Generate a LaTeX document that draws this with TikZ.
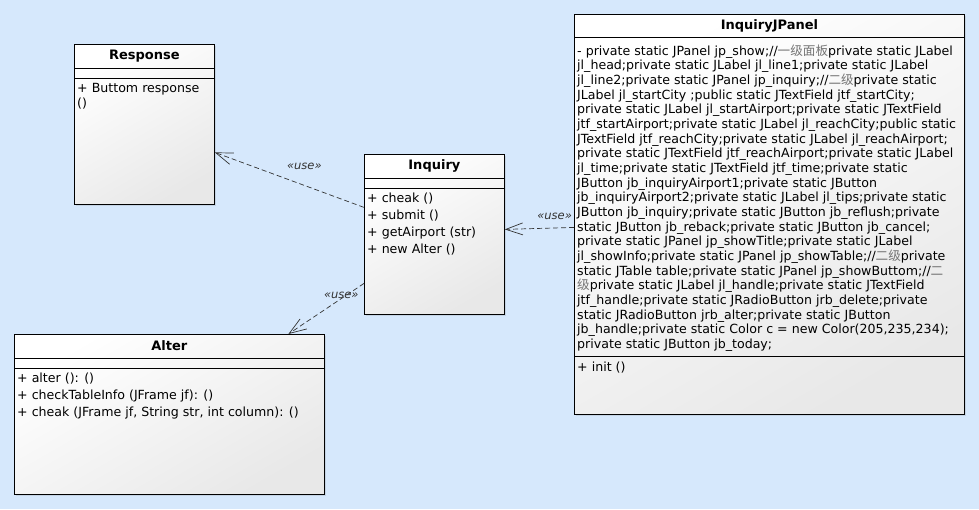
\documentclass[tikz,border=0pt]{standalone}
\usepackage{fontspec}
\setmainfont{DejaVu Sans}
\newfontfamily\cjk{Noto Sans CJK SC}
\usetikzlibrary{arrows.meta,shadows}
\definecolor{diagbg}{RGB}{214,232,252}
\newcommand{\zh}[1]{{\cjk\color{black!55}#1}}

\begin{document}
\begin{tikzpicture}[%
      x=1pt, y=-1pt,
      classbox/.style={rectangle, draw=black, line width=0.8pt, inner sep=0pt,
        anchor=north west, top color=white, bottom color=black!9, shading angle=30,
        drop shadow={shadow xshift=2pt, shadow yshift=-2pt, opacity=0.2}},
      classname/.style={inner sep=0pt, font=\fontsize{13}{15}\bfseries},
      members/.style={anchor=north west, inner sep=0pt, align=left,
        font=\fontsize{12.6}{14.65}\selectfont},
      methods/.style={members, font=\fontsize{12.6}{17}\selectfont},
      sepline/.style={line width=0.8pt},
      dep/.style={black!80, line width=0.7pt, dash pattern=on 5pt off 3pt,
        -{Straight Barb[length=17pt, width=12pt]}},
      uselbl/.style={inner sep=0pt, black!80, font=\fontsize{11.5}{13}\itshape},
      ]
      \useasboundingbox (0,0) rectangle (979,509);
      \fill [diagbg] (0,0) rectangle (979,509);

      % Response
      \node [classbox, minimum width=140pt, minimum height=160pt] (resp) at (74,44) {};
      \node [classname] (respname) at ([yshift=-12pt]resp.north) {Response};
      \draw [sepline] ([yshift=-24pt]resp.north west) -- ([yshift=-24pt]resp.north east);
      \draw [sepline] ([yshift=-34pt]resp.north west) -- ([yshift=-34pt]resp.north east);
      \node [members, font=\fontsize{12.6}{15}\selectfont] (respops) at (77,82.5)
        {\rule{0pt}{10pt}+ Buttom response\\()};

      % Inquiry
      \node [classbox, minimum width=140pt, minimum height=160pt] (inq) at (364,154) {};
      \node [classname] (inqname) at ([yshift=-12pt]inq.north) {Inquiry};
      \draw [sepline] ([yshift=-24pt]inq.north west) -- ([yshift=-24pt]inq.north east);
      \draw [sepline] ([yshift=-34pt]inq.north west) -- ([yshift=-34pt]inq.north east);
      \node [methods] (inqops) at (367,192.5)
        {\rule{0pt}{10pt}+ cheak ()\\+ submit ()\\+ getAirport (str)\\+ new Alter ()};

      % Alter
      \node [classbox, minimum width=310pt, minimum height=160pt] (alter) at (14,334) {};
      \node [classname] (altername) at ([yshift=-12pt]alter.north) {Alter};
      \draw [sepline] ([yshift=-24pt]alter.north west) -- ([yshift=-24pt]alter.north east);
      \draw [sepline] ([yshift=-34pt]alter.north west) -- ([yshift=-34pt]alter.north east);
      \node [methods] (alterops) at (17,372.5)
        {\rule{0pt}{10pt}+ alter (): ()\\+ checkTableInfo (JFrame jf): ()\\
         + cheak (JFrame jf, String str, int column): ()};

      % InquiryJPanel
      \node [classbox, minimum width=390pt, minimum height=400pt] (panel) at (574,14) {};
      \node [classname] (panelname) at ([yshift=-11.5pt]panel.north) {InquiryJPanel};
      \draw [sepline] ([yshift=-23pt]panel.north west) -- ([yshift=-23pt]panel.north east);
      \draw [sepline] ([yshift=-342pt]panel.north west) -- ([yshift=-342pt]panel.north east);
      \node [members] (panelattrs) at (577,44.5)
        {\rule{0pt}{10pt}- private static JPanel jp\_show;//\zh{一级面板}private static JLabel\\
         jl\_head;private static JLabel jl\_line1;private static JLabel\\
         jl\_line2;private static JPanel jp\_inquiry;//\zh{二级}private static\\
         JLabel jl\_startCity ;public static JTextField jtf\_startCity;\\
         private static JLabel jl\_startAirport;private static JTextField\\
         jtf\_startAirport;private static JLabel jl\_reachCity;public static\\
         JTextField jtf\_reachCity;private static JLabel jl\_reachAirport;\\
         private static JTextField jtf\_reachAirport;private static JLabel\\
         jl\_time;private static JTextField jtf\_time;private static\\
         JButton jb\_inquiryAirport1;private static JButton\\
         jb\_inquiryAirport2;private static JLabel jl\_tips;private static\\
         JButton jb\_inquiry;private static JButton jb\_reflush;private\\
         static JButton jb\_reback;private static JButton jb\_cancel;\\
         private static JPanel jp\_showTitle;private static JLabel\\
         jl\_showInfo;private static JPanel jp\_showTable;//\zh{二级}private\\
         static JTable table;private static JPanel jp\_showButtom;//\zh{二}\\
         \zh{级}private static JLabel jl\_handle;private static JTextField\\
         jtf\_handle;private static JRadioButton jrb\_delete;private\\
         static JRadioButton jrb\_alter;private static JButton\\
         jb\_handle;private static Color c = new Color(205,235,234);\\
         private static JButton jb\_today;};
      \node [members] (panelops) at (577,361.5) {\rule{0pt}{10pt}+ init ()};

      % dependencies
      \draw [dep] ([yshift=27pt]inq.west) -- node [uselbl, pos=0.4, yshift=19pt] (use1) {«use»}
        ([yshift=-28pt]resp.east);
      \draw [dep] ([yshift=-49pt]inq.west) -- node [uselbl, pos=0.3, yshift=3pt] (use2) {«use»}
        ([xshift=119pt]alter.north);
      \draw [dep] ([yshift=-13pt]panel.west) -- node [uselbl, pos=0.28, yshift=12pt] (use3) {«use»}
        ([yshift=5pt]inq.east);
      \end{tikzpicture}
\end{document}
